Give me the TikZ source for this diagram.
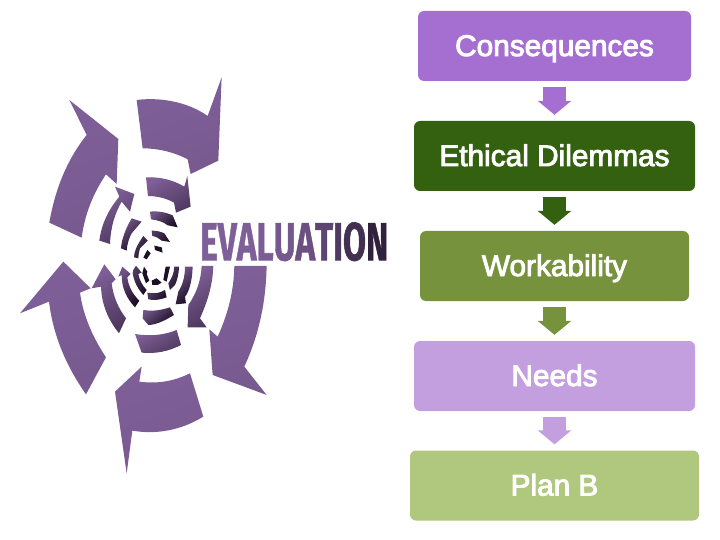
\documentclass[tikz,border=0pt]{standalone}
\usepackage{fontspec}
\usepackage{xcolor}
\setmainfont{Liberation Sans}
\newfontfamily\stepfont[FakeBold=3]{Liberation Sans}
\newfontfamily\evalfont[FakeBold=1.2]{Fira Sans}
\usetikzlibrary{arrows.meta, positioning, calc}

\definecolor{conscol}{HTML}{A56FD2}
\definecolor{ethiccol}{HTML}{33610F}
\definecolor{workcol}{HTML}{76923C}
\definecolor{needscol}{HTML}{C39FE0}
\definecolor{plancol}{HTML}{B0C87E}
\definecolor{swirlcol}{HTML}{7F5F98}
\definecolor{swirldark}{HTML}{4F3A60}
\definecolor{swirlink}{HTML}{1C1024}

\begin{document}
\begin{tikzpicture}[
  x=1pt,
  y=-1pt,
  stepbox/.style={rectangle, rounded corners=6pt, inner sep=0pt, minimum height=70pt,
    text height=20pt, text depth=0pt, text=white, font=\fontsize{29.8}{32}\stepfont},
  flow/.style={-{Triangle[length=14pt,width=33pt]}, line width=23pt, shorten <=6pt, shorten >=6pt},
  ringa/.style={left color=swirlcol, right color=swirlcol!85!swirldark, shading angle=20},
  ringb/.style={left color=swirlcol, right color=swirldark, shading angle=30},
  ringc/.style={left color=swirlcol!70!swirldark, right color=swirlink, shading angle=40},
  ringd/.style={left color=swirldark, right color=swirlink, shading angle=60},
  ringe/.style={fill=swirlink}
]
\useasboundingbox (0,0) rectangle (720,540);

% Steps
\node[stepbox, fill=conscol, minimum width=273pt] (cons) at (554.5,46) {Consequences};
\node[stepbox, fill=ethiccol, minimum width=281pt] (ethic) at (554.5,156) {Ethical Dilemmas};
\node[stepbox, fill=workcol, minimum width=269pt] (work) at (554.5,266) {Workability};
\node[stepbox, fill=needscol, minimum width=281pt] (needs) at (554.5,376) {Needs};
\node[stepbox, fill=plancol, minimum width=289pt] (planb) at (554.5,485.5) {Plan B};

% Arrows between steps
\draw[flow, color=conscol] (cons) -- (ethic);
\draw[flow, color=ethiccol] (ethic) -- (work);
\draw[flow, color=workcol] (work) -- (needs);
\draw[flow, color=needscol] (needs) -- (planb);

% Word
\node[anchor=north west, inner sep=0pt] (evalword) at (200,222) {\resizebox{188pt}{38pt}{\evalfont\bfseries
  \textcolor{swirlcol}{E}\textcolor{swirlcol}{V}\textcolor{swirlcol}{A}\textcolor{swirlcol!92!swirldark}{L}%
  \textcolor{swirlcol!80!swirldark}{U}\textcolor{swirlcol!60!swirldark}{A}\textcolor{swirlcol!30!swirldark}{T}%
  \textcolor{swirldark}{I}\textcolor{swirldark!75!swirlink}{O}\textcolor{swirldark!40!swirlink}{N}}};

% Swirl (coordinates at 3x)
\begin{scope}[x=0.3333pt, y=-0.3333pt, shift={(0,210)}]
% top arm
\shade[ringa] (410,90) .. controls (490,80) and (570,100) .. (623,138) -- (665,22) -- (655,272) -- (572,312) -- (563,268)
  .. controls (520,245) and (470,235) .. (428,235) -- cycle;
\shade[ringb] (438,322) .. controls (480,320) and (520,330) .. (553,350) -- (562,318) -- (572,410) -- (528,428) -- (522,398)
  .. controls (500,385) and (470,378) .. (444,378) -- cycle;
\shade[ringc] (450,425) .. controls (475,422) and (500,428) .. (518,436) -- (533,472) -- (503,466)
  .. controls (490,455) and (470,450) .. (453,448) -- cycle;
\shade[ringd] (455,482) .. controls (470,482) and (482,485) .. (493,490) -- (510,516) -- (485,512) .. controls (478,505) and (468,500) .. (457,498) -- cycle;
\fill[ringe] (463,527) -- (485,532) -- (488,548) -- (465,540) -- cycle;
% upper left arm
\shade[ringa] (208,90) -- (355,207) -- (350,342) -- (318,313) .. controls (280,370) and (255,430) .. (245,503) -- (148,458)
  .. controls (165,360) and (200,270) .. (260,195) -- cycle;
\shade[ringb] (345,350) -- (403,372) -- (390,425) -- (365,395) .. controls (345,430) and (332,470) .. (330,522) -- (298,512)
  .. controls (305,460) and (325,420) .. (358,380) -- cycle;
\shade[ringc] (395,445) -- (425,455) -- (395,490) .. controls (387,505) and (382,520) .. (380,542) -- (363,535)
  .. controls (365,505) and (378,475) .. (395,445) -- cycle;
\shade[ringd] (430,498) -- (443,512) -- (420,535) .. controls (417,545) and (415,555) .. (415,565) -- (402,562)
  .. controls (403,545) and (408,530) .. (430,498) -- cycle;
\fill[ringe] (442,540) -- (452,550) -- (440,568) -- (430,563) -- cycle;
% lower left arm
\shade[ringa] (60,730) -- (190,575) -- (272,655) -- (240,668) .. controls (250,740) and (280,805) .. (318,862) -- (258,973)
  .. controls (200,890) and (160,800) .. (147,695) -- cycle;
\shade[ringb] (275,655) -- (313,583) -- (347,628) -- (335,640) .. controls (340,680) and (355,715) .. (378,745) -- (357,790)
  .. controls (325,750) and (305,705) .. (303,650) -- cycle;
\shade[ringc] (355,620) -- (367,590) -- (392,612) -- (382,622) .. controls (385,650) and (400,675) .. (418,692) -- (405,712)
  .. controls (380,685) and (365,655) .. (365,615) -- cycle;
\shade[ringd] (400,600) -- (408,587) -- (425,608) -- (415,612) .. controls (418,630) and (428,648) .. (440,660) -- (430,675)
  .. controls (412,655) and (400,630) .. (398,608) -- cycle;
\fill[ringe] (432,590) -- (442,605) -- (440,612) -- (448,632) -- (438,640) -- (427,610) -- cycle;
% bottom arm
\shade[ringa] (380,1210) -- (397,1082) .. controls (470,1095) and (545,1080) .. (610,1040) -- (570,910)
  .. controls (520,935) and (470,942) .. (418,935) -- (425,890) -- (345,965) -- cycle;
\shade[ringb] (405,792) .. controls (450,800) and (495,795) .. (530,780) -- (543,825) .. controls (505,845) and (465,852) .. (425,848) -- cycle;
\shade[ringc] (430,720) .. controls (460,725) and (485,720) .. (510,712) -- (522,735) .. controls (490,755) and (465,765) .. (445,765) -- (428,745) -- cycle;
\shade[ringd] (442,668) .. controls (460,672) and (480,670) .. (495,660) -- (500,682) .. controls (480,690) and (460,692) .. (445,688) -- cycle;
\fill[ringe] (455,632) -- (470,625) -- (485,638) -- (473,645) -- (457,645) -- cycle;
% lower right arm
\shade[ringa] (703,588) -- (800,588) .. controls (798,700) and (775,800) .. (733,890) -- (800,975) -- (638,915) -- (628,778)
  -- (653,800) .. controls (685,730) and (702,660) .. (703,588);
\shade[ringb] (605,588) -- (640,588) .. controls (638,650) and (620,700) .. (600,745) -- (620,772) -- (563,772) -- (565,705)
  .. controls (590,670) and (603,630) .. (605,588);
\shade[ringc] (555,590) -- (578,590) .. controls (577,630) and (568,665) .. (555,680) -- (558,700) -- (527,703) -- (535,665)
  .. controls (548,645) and (555,620) .. (555,590);
\shade[ringd] (523,590) -- (537,590) .. controls (537,610) and (532,630) .. (525,645) -- (510,660) -- (505,640)
  .. controls (515,625) and (522,610) .. (523,590);
\fill[ringe] (497,590) -- (510,590) -- (500,635) -- (490,630) -- cycle;
\end{scope}

\end{tikzpicture}
\end{document}
